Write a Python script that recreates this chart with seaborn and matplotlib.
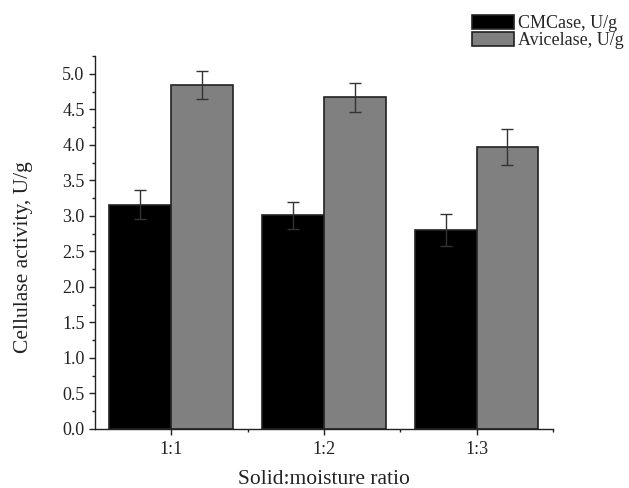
import matplotlib
matplotlib.use("Agg")
import matplotlib.pyplot as plt
import seaborn as sns
import pandas as pd
import numpy as np
from matplotlib.ticker import MultipleLocator, FixedLocator

categories = ["1:1", "1:2", "1:3"]
series_names = ["CMCase, U/g", "Avicelase, U/g"]
cmcase = [3.16, 3.01, 2.80]
cmcase_err = [0.20, 0.19, 0.22]
avicelase = [4.84, 4.67, 3.97]
avicelase_err = [0.20, 0.20, 0.25]
yticks = [0.0, 0.5, 1.0, 1.5, 2.0, 2.5, 3.0, 3.5, 4.0, 4.5, 5.0]

df = pd.DataFrame({
    "ratio": categories * 2,
    "series": [series_names[0]] * 3 + [series_names[1]] * 3,
    "value": cmcase + avicelase,
    "err": cmcase_err + avicelase_err,
})

sns.set_style("ticks")
plt.rcParams["font.family"] = ["Liberation Serif", "DejaVu Serif"]

fig = plt.figure(figsize=(6.29, 4.88), dpi=100)
ax = fig.add_axes([0.151, 0.121, 0.728, 0.764])

sns.barplot(data=df, x="ratio", y="value", hue="series",
            palette=["#000000", "#808080"], width=0.81,
            errorbar=None, ax=ax, linewidth=1.2, edgecolor="#222222",
            saturation=1)

# error bars at bar centres
for container, errs in zip(ax.containers, [cmcase_err, avicelase_err]):
    xs = [p.get_x() + p.get_width() / 2 for p in container.patches]
    ys = [p.get_height() for p in container.patches]
    ax.errorbar(xs, ys, yerr=errs, fmt="none", ecolor="#333333",
                elinewidth=1.0, capsize=4, capthick=1.0)

ax.set_xlim(-0.5, 2.5)
ax.set_ylim(0, 5.25)
ax.set_yticks(yticks)
ax.set_yticklabels([f"{v:.1f}" for v in yticks])
ax.yaxis.set_minor_locator(MultipleLocator(0.25))
ax.xaxis.set_minor_locator(FixedLocator([0.5, 1.5, 2.5]))
ax.tick_params(axis="both", which="major", direction="out", length=4,
               width=1, colors="#222222")
ax.tick_params(axis="y", which="major", labelsize=13)
ax.tick_params(axis="x", which="major", labelsize=13, pad=5)
ax.tick_params(axis="both", which="minor", direction="out", length=2.5, width=1,
               colors="#222222")
for s in ["top", "right"]:
    ax.spines[s].set_visible(False)
for s in ["left", "bottom"]:
    ax.spines[s].set_linewidth(1.0)
    ax.spines[s].set_color("#222222")

ax.set_xlabel("Solid:moisture ratio", fontsize=15.5, color="#222222")
ax.set_ylabel("Cellulase activity, U/g", fontsize=15.5, color="#222222")
ax.xaxis.set_label_coords(0.5, -0.11)
ax.yaxis.set_label_coords(-0.135, 0.46)

leg = ax.legend(loc="upper left", frameon=False, fontsize=13,
                handlelength=2.3, handleheight=0.8,
                handletextpad=0.25, labelspacing=0.0, borderaxespad=0,
                borderpad=0)
leg.set_bbox_to_anchor((472 / 629, 1 - 15 / 488), transform=fig.transFigure)

fig.savefig("out.png", dpi=100)
